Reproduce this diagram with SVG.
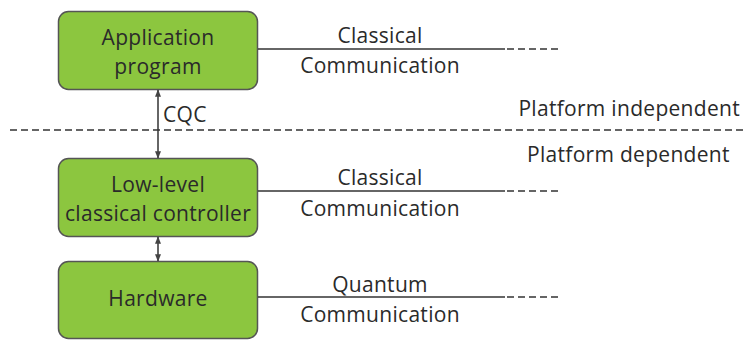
<svg xmlns="http://www.w3.org/2000/svg" width="743" height="340" viewBox="0 0 743 340">
<defs>
<marker id="ah" viewBox="0 0 10 10" refX="9" refY="5" markerWidth="5" markerHeight="5" orient="auto-start-reverse"><path d="M0,1 L10,5 L0,9 z" fill="#444"/></marker>
<style>
.box{fill:#8cc63f;stroke:#555;stroke-width:1.5}
.t{font-family:"Open Sans","Noto Sans",sans-serif;font-size:21px;letter-spacing:0.3px;fill:#2a2a2a}
.m{text-anchor:middle}
.ln{stroke:#333;stroke-width:1.5;fill:none}
.dl{stroke:#333;stroke-width:1.5;fill:none;stroke-dasharray:7,4}
</style>
</defs>
<rect width="743" height="340" fill="#fff"/>
<g id="app"><rect class="box" x="58.5" y="11.5" width="199" height="78" rx="10"/><text class="t m" x="158" y="45">Application</text><text class="t m" x="158" y="74">program</text></g>
<g id="ctrl"><rect class="box" x="58.5" y="158.5" width="199" height="78" rx="10"/><text class="t m" x="158" y="192">Low-level</text><text class="t m" x="158" y="221">classical controller</text></g>
<g id="hw"><rect class="box" x="58.5" y="261.5" width="199" height="77" rx="10"/><text class="t m" x="158" y="306">Hardware</text></g>
<g id="connectors">
<line class="ln" x1="158" y1="90" x2="158" y2="158" marker-start="url(#ah)" marker-end="url(#ah)"/>
<line class="ln" x1="158" y1="237" x2="158" y2="261" marker-start="url(#ah)" marker-end="url(#ah)"/>
<line class="dl" x1="10" y1="130" x2="743" y2="130"/>
<line class="ln" x1="258" y1="49" x2="505" y2="49"/><line class="dl" x1="507" y1="49" x2="558" y2="49"/>
<line class="ln" x1="258" y1="191" x2="505" y2="191"/><line class="dl" x1="507" y1="191" x2="558" y2="191"/>
<line class="ln" x1="258" y1="297" x2="505" y2="297"/><line class="dl" x1="507" y1="297" x2="558" y2="297"/>
</g>
<text class="t" x="163" y="122">CQC</text>
<text class="t m" x="380" y="43">Classical</text><text class="t m" x="380" y="73">Communication</text>
<text class="t m" x="380" y="185">Classical</text><text class="t m" x="380" y="216">Communication</text>
<text class="t m" x="380" y="292">Quantum</text><text class="t m" x="380" y="322">Communication</text>
<text class="t" x="740" y="116" text-anchor="end">Platform independent</text>
<text class="t" x="527" y="162">Platform dependent</text>
</svg>
